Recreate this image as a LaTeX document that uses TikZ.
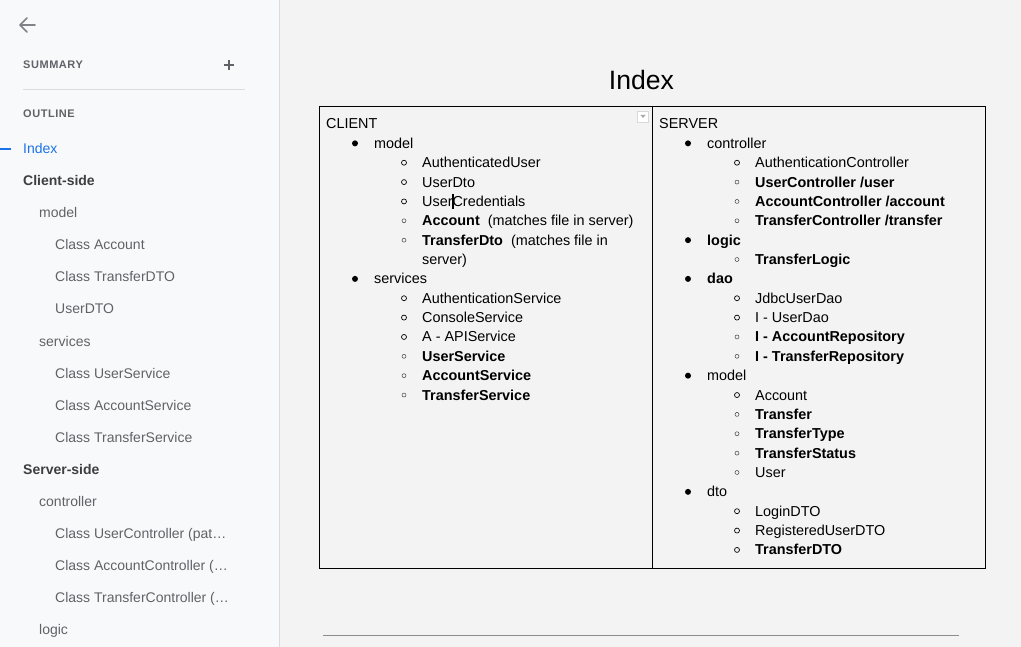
\documentclass[tikz,border=0pt]{standalone}
\usepackage{fontspec}
\setmainfont{Liberation Sans}
\definecolor{sidebg}{HTML}{F8F9FA}
\definecolor{pagebg}{HTML}{F3F3F3}
\definecolor{edgegray}{HTML}{DADCE0}
\definecolor{navgray}{HTML}{5F6368}
\definecolor{headgray}{HTML}{3C4043}
\definecolor{linkblue}{HTML}{1A73E8}
\newcommand{\docfont}{\fontsize{14.4}{17}\selectfont}
\newcommand{\navfont}{\fontsize{14}{17}\selectfont}
\tikzset{
	cell/.style={anchor=base west, inner sep=0pt, font=\docfont},
	nav/.style={anchor=base west, inner sep=0pt, font=\navfont, text=navgray},
	navtop/.style={text=headgray, font=\navfont\bfseries},
	navsel/.style={text=linkblue},
	navcap/.style={anchor=base west, inner sep=0pt, font=\fontsize{11}{13}\selectfont\bfseries\addfontfeature{LetterSpace=5}, text=navgray},
	dot/.style={circle, fill=black, inner sep=0pt, minimum size=6pt},
	ring/.style={circle, draw=black, line width=0.7pt, inner sep=0pt, minimum size=5pt},
	thinring/.style={circle, draw=black!75, line width=0.5pt, inner sep=0pt, minimum size=4pt},
}
\begin{document}
\begin{tikzpicture}[x=1pt,y=-1pt]
	\useasboundingbox (0,0) rectangle (1021,647);
	\fill[pagebg] (0,0) rectangle (1021,647);
	\fill[sidebg] (0,0) rectangle (279,647);
	\draw[edgegray] (279.5,0) -- (279.5,647);
	% side panel
	\draw[navgray!80, line width=1.6pt, line cap=round, line join=round] (35,25) -- (20,25) (27,18) -- (20,25) -- (27,32);
	\node[navcap] (summary) at (23,69) {SUMMARY};
	\draw[navgray, line width=2pt] (224,65) -- (234,65) (229,60) -- (229,70);
	\draw[edgegray, line width=1pt] (23,89.5) -- (245,89.5);
	\node[navcap] (outline) at (23,118) {OUTLINE};
	\draw[linkblue, line width=1.5pt] (0,149) -- (11,149);
	\foreach \r/\ind/\s/\t in {0/0/navsel/Index, 1/0/navtop/Client-side, 2/1/nav/model, 3/2/nav/Class Account,
		4/2/nav/Class TransferDTO, 5/2/nav/UserDTO, 6/1/nav/services, 7/2/nav/Class UserService,
		8/2/nav/Class AccountService, 9/2/nav/Class TransferService, 10/0/navtop/Server-side, 11/1/nav/controller,
		12/2/nav/Class UserController (pat…, 13/2/nav/Class AccountController (…, 14/2/nav/Class TransferController (…, 15/1/nav/logic}
	{
		\node[nav,\s] (nav\r) at ({23+16*\ind},{154+32*\r}) {\t};
	}
	% document
	\node[anchor=base, inner sep=0pt, font=\fontsize{26.6}{30}\selectfont] (title) at (641.5,90) {Index};
	\draw[line width=1pt] (319.5,106.5) rectangle (985.5,568.5);
	\draw[line width=1pt] (652.5,106.5) -- (652.5,568.5);
	\draw[black!15, fill=white] (637.5,111.5) rectangle (648.5,122.5);
	\fill[black!35] (640.5,115) -- (645.5,115) -- (643,118) -- cycle;
	\node[cell] (client) at (326,129) {CLIENT};
	\node[cell] (server) at (659,129) {SERVER};
	\foreach \r/\lv/\t in {1/1/model, 2/2/AuthenticatedUser, 3/2/UserDto, 4/2/UserCredentials,
		5/3/{\textbf{Account}~~(matches file in server)}, 6/3/{\textbf{TransferDto}~~(matches file in}, 7/0/server),
		8/1/services, 9/2/AuthenticationService, 10/2/ConsoleService, 11/2/A - APIService,
		12/3/{\textbf{UserService}}, 13/3/{\textbf{AccountService}}, 14/3/{\textbf{TransferService}}}
	{
		\pgfmathsetmacro{\y}{129+19.36*\r}
		\pgfmathsetmacro{\tx}{\lv==1 ? 374 : 422}
		\ifnum\lv=1 \node[dot] (cb\r) at (355,{\y-5}) {}; \fi
		\ifnum\lv=2 \node[ring] (cb\r) at (404,{\y-5}) {}; \fi
		\ifnum\lv=3 \node[thinring] (cb\r) at (404,{\y-5}) {}; \fi
		\node[cell] (cl\r) at (\tx,\y) {\t};
	}
	\foreach \r/\lv/\t in {1/1/controller, 2/2/AuthenticationController, 3/3/{\textbf{UserController /user}},
		4/3/{\textbf{AccountController /account}}, 5/3/{\textbf{TransferController /transfer}},
		6/1/{\textbf{logic}}, 7/3/{\textbf{TransferLogic}}, 8/1/{\textbf{dao}}, 9/2/JdbcUserDao, 10/2/I - UserDao,
		11/3/{\textbf{I - AccountRepository}}, 12/3/{\textbf{I - TransferRepository}}, 13/1/model, 14/2/Account,
		15/3/{\textbf{Transfer}}, 16/3/{\textbf{TransferType}}, 17/3/{\textbf{TransferStatus}}, 18/3/User,
		19/1/dto, 20/2/LoginDTO, 21/2/RegisteredUserDTO, 22/2/{\textbf{TransferDTO}}}
	{
		\pgfmathsetmacro{\y}{129+19.36*\r}
		\pgfmathsetmacro{\tx}{\lv==1 ? 707 : 755}
		\ifnum\lv=1 \node[dot] (sb\r) at (688,{\y-5}) {}; \fi
		\ifnum\lv=2 \node[ring] (sb\r) at (737,{\y-5}) {}; \fi
		\ifnum\lv=3 \node[thinring] (sb\r) at (737,{\y-5}) {}; \fi
		\node[cell] (sv\r) at (\tx,\y) {\t};
	}
	% text cursor
	\draw[line width=1.3pt] (453,194) -- (453,209.5);
	\draw[black!45] (323,635.5) -- (958.5,635.5);
\end{tikzpicture}
\end{document}
